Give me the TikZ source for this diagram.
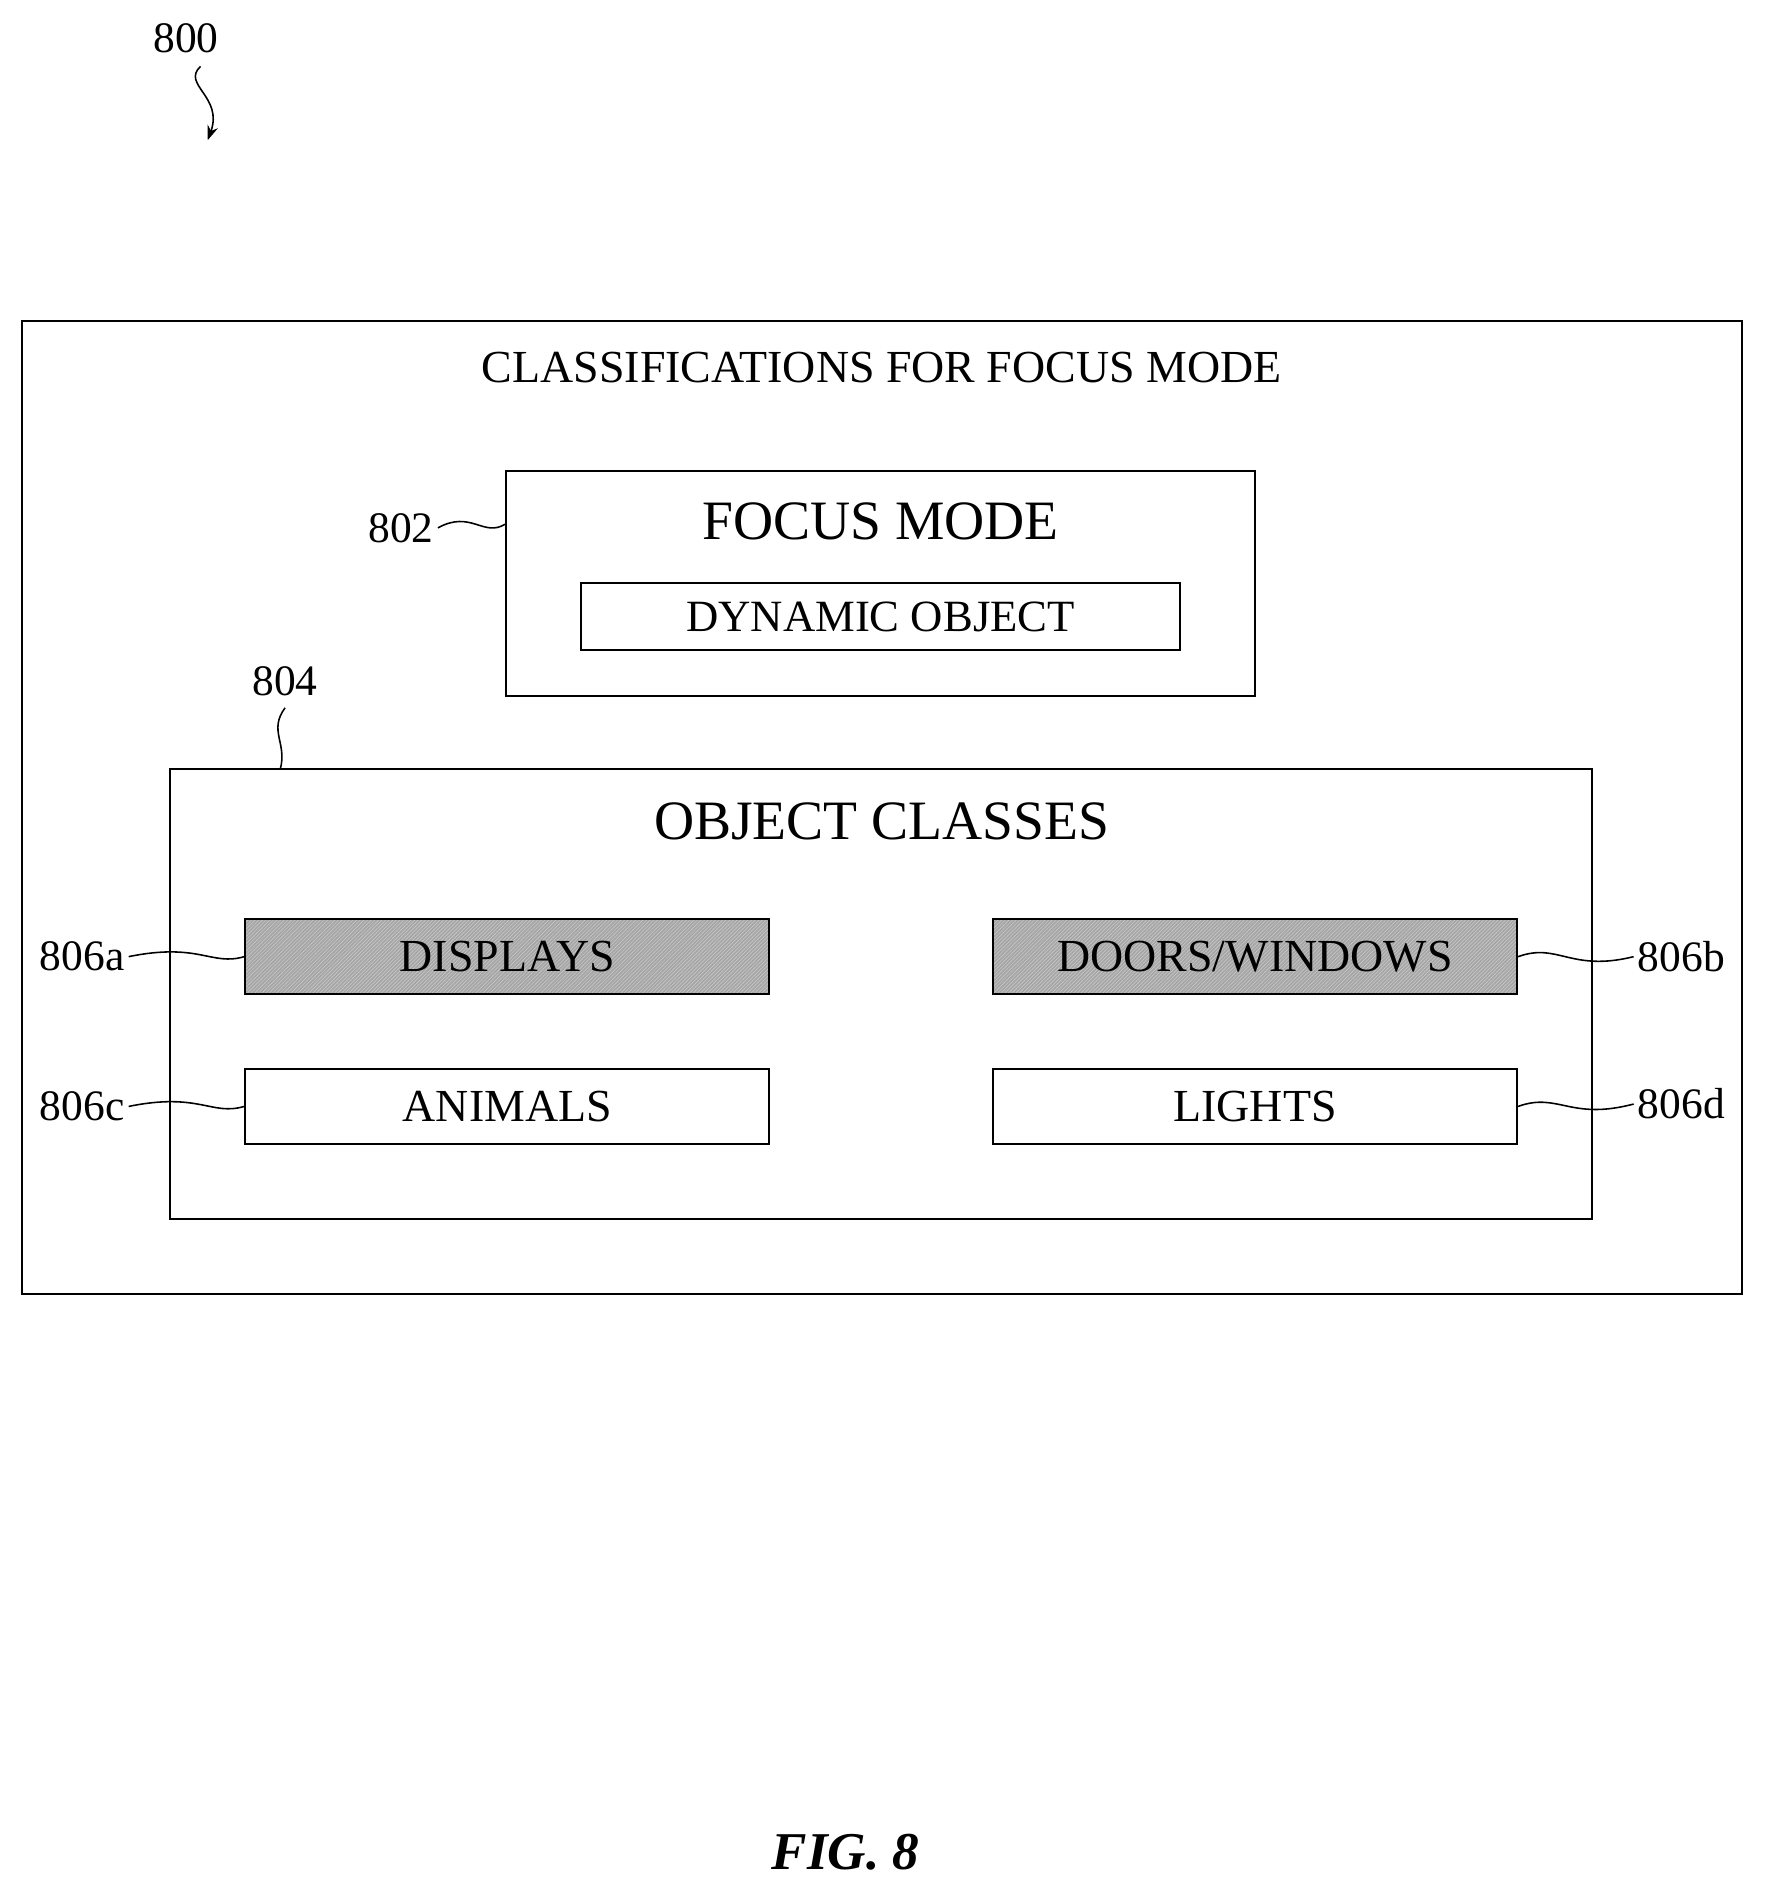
\documentclass[tikz,border=0pt]{standalone}
\usepackage{fontspec}
\setmainfont{Liberation Serif}
\usetikzlibrary{patterns,arrows.meta}
\begin{document}
\begin{tikzpicture}[x=1pt,y=-1pt,
  box/.style={draw,line width=1.6pt},
  lbl/.style={font=\fontsize{36}{40}\selectfont},
  sq/.style={line width=1.3pt}]
\useasboundingbox (0,0) rectangle (1465,1573);
\node[lbl] (n800) at (154,32) {800};
\coordinate (a800) at (172,116);
\draw[sq,-{Stealth[length=12pt]}] (166,55) .. controls (150,70) and (185,80) .. (a800);
\node[box,minimum width=1424pt,minimum height=805pt] (outer) at (730,668.5) {};
\node[font=\fontsize{38}{42}\selectfont] (title) at (730,304) {CLASSIFICATIONS FOR FOCUS MODE};
\node[box,minimum width=620pt,minimum height=186pt] (focus) at (729,483) {};
\node[font=\fontsize{46}{50}\selectfont] (fm) at (729,432) {FOCUS MODE};
\node[box,minimum width=496pt,minimum height=55pt,font=\fontsize{37}{40}\selectfont] (dyn) at (729,510.5) {DYNAMIC OBJECT};
\node[lbl] (n802) at (332,437) {802};
\draw[sq] (n802.east) .. controls (390,422) and (400,445) .. (focus.west |- 0,434);
\node[box,minimum width=1177pt,minimum height=372pt] (oc) at (729.5,823) {};
\node[font=\fontsize{46}{50}\selectfont] (oct) at (730,680) {OBJECT CLASSES};
\node[lbl] (n804) at (236,564) {804};
\draw[sq] (236,586) .. controls (222,605) and (238,615) .. (232,637);
\tikzset{cls/.style={box,minimum width=434pt,minimum height=62pt,font=\fontsize{38}{40}\selectfont},
 hat/.style={preaction={fill=gray!70},pattern=north east lines,pattern color=gray!40}}
\node[cls,hat] (disp) at (420,792) {DISPLAYS};
\node[cls,hat] (door) at (1039,792) {DOORS/WINDOWS};
\node[cls] (anim) at (420,916) {ANIMALS};
\node[cls] (light) at (1039,916) {LIGHTS};
\node[lbl] (a) at (68,792) {806a};
\node[lbl] (b) at (1392,792) {806b};
\node[lbl] (c) at (68,916) {806c};
\node[lbl] (d) at (1392,914) {806d};
\draw[sq] (a.east) .. controls (165,780) and (175,800) .. (disp.west);
\draw[sq] (c.east) .. controls (165,904) and (175,924) .. (anim.west);
\draw[sq] (door.east) .. controls (1290,780) and (1300,805) .. (b.west);
\draw[sq] (light.east) .. controls (1290,904) and (1300,928) .. (d.west);
\node[font=\fontsize{44}{48}\selectfont\bfseries\itshape] (fig) at (700,1533) {FIG. 8};
\end{tikzpicture}
\end{document}
